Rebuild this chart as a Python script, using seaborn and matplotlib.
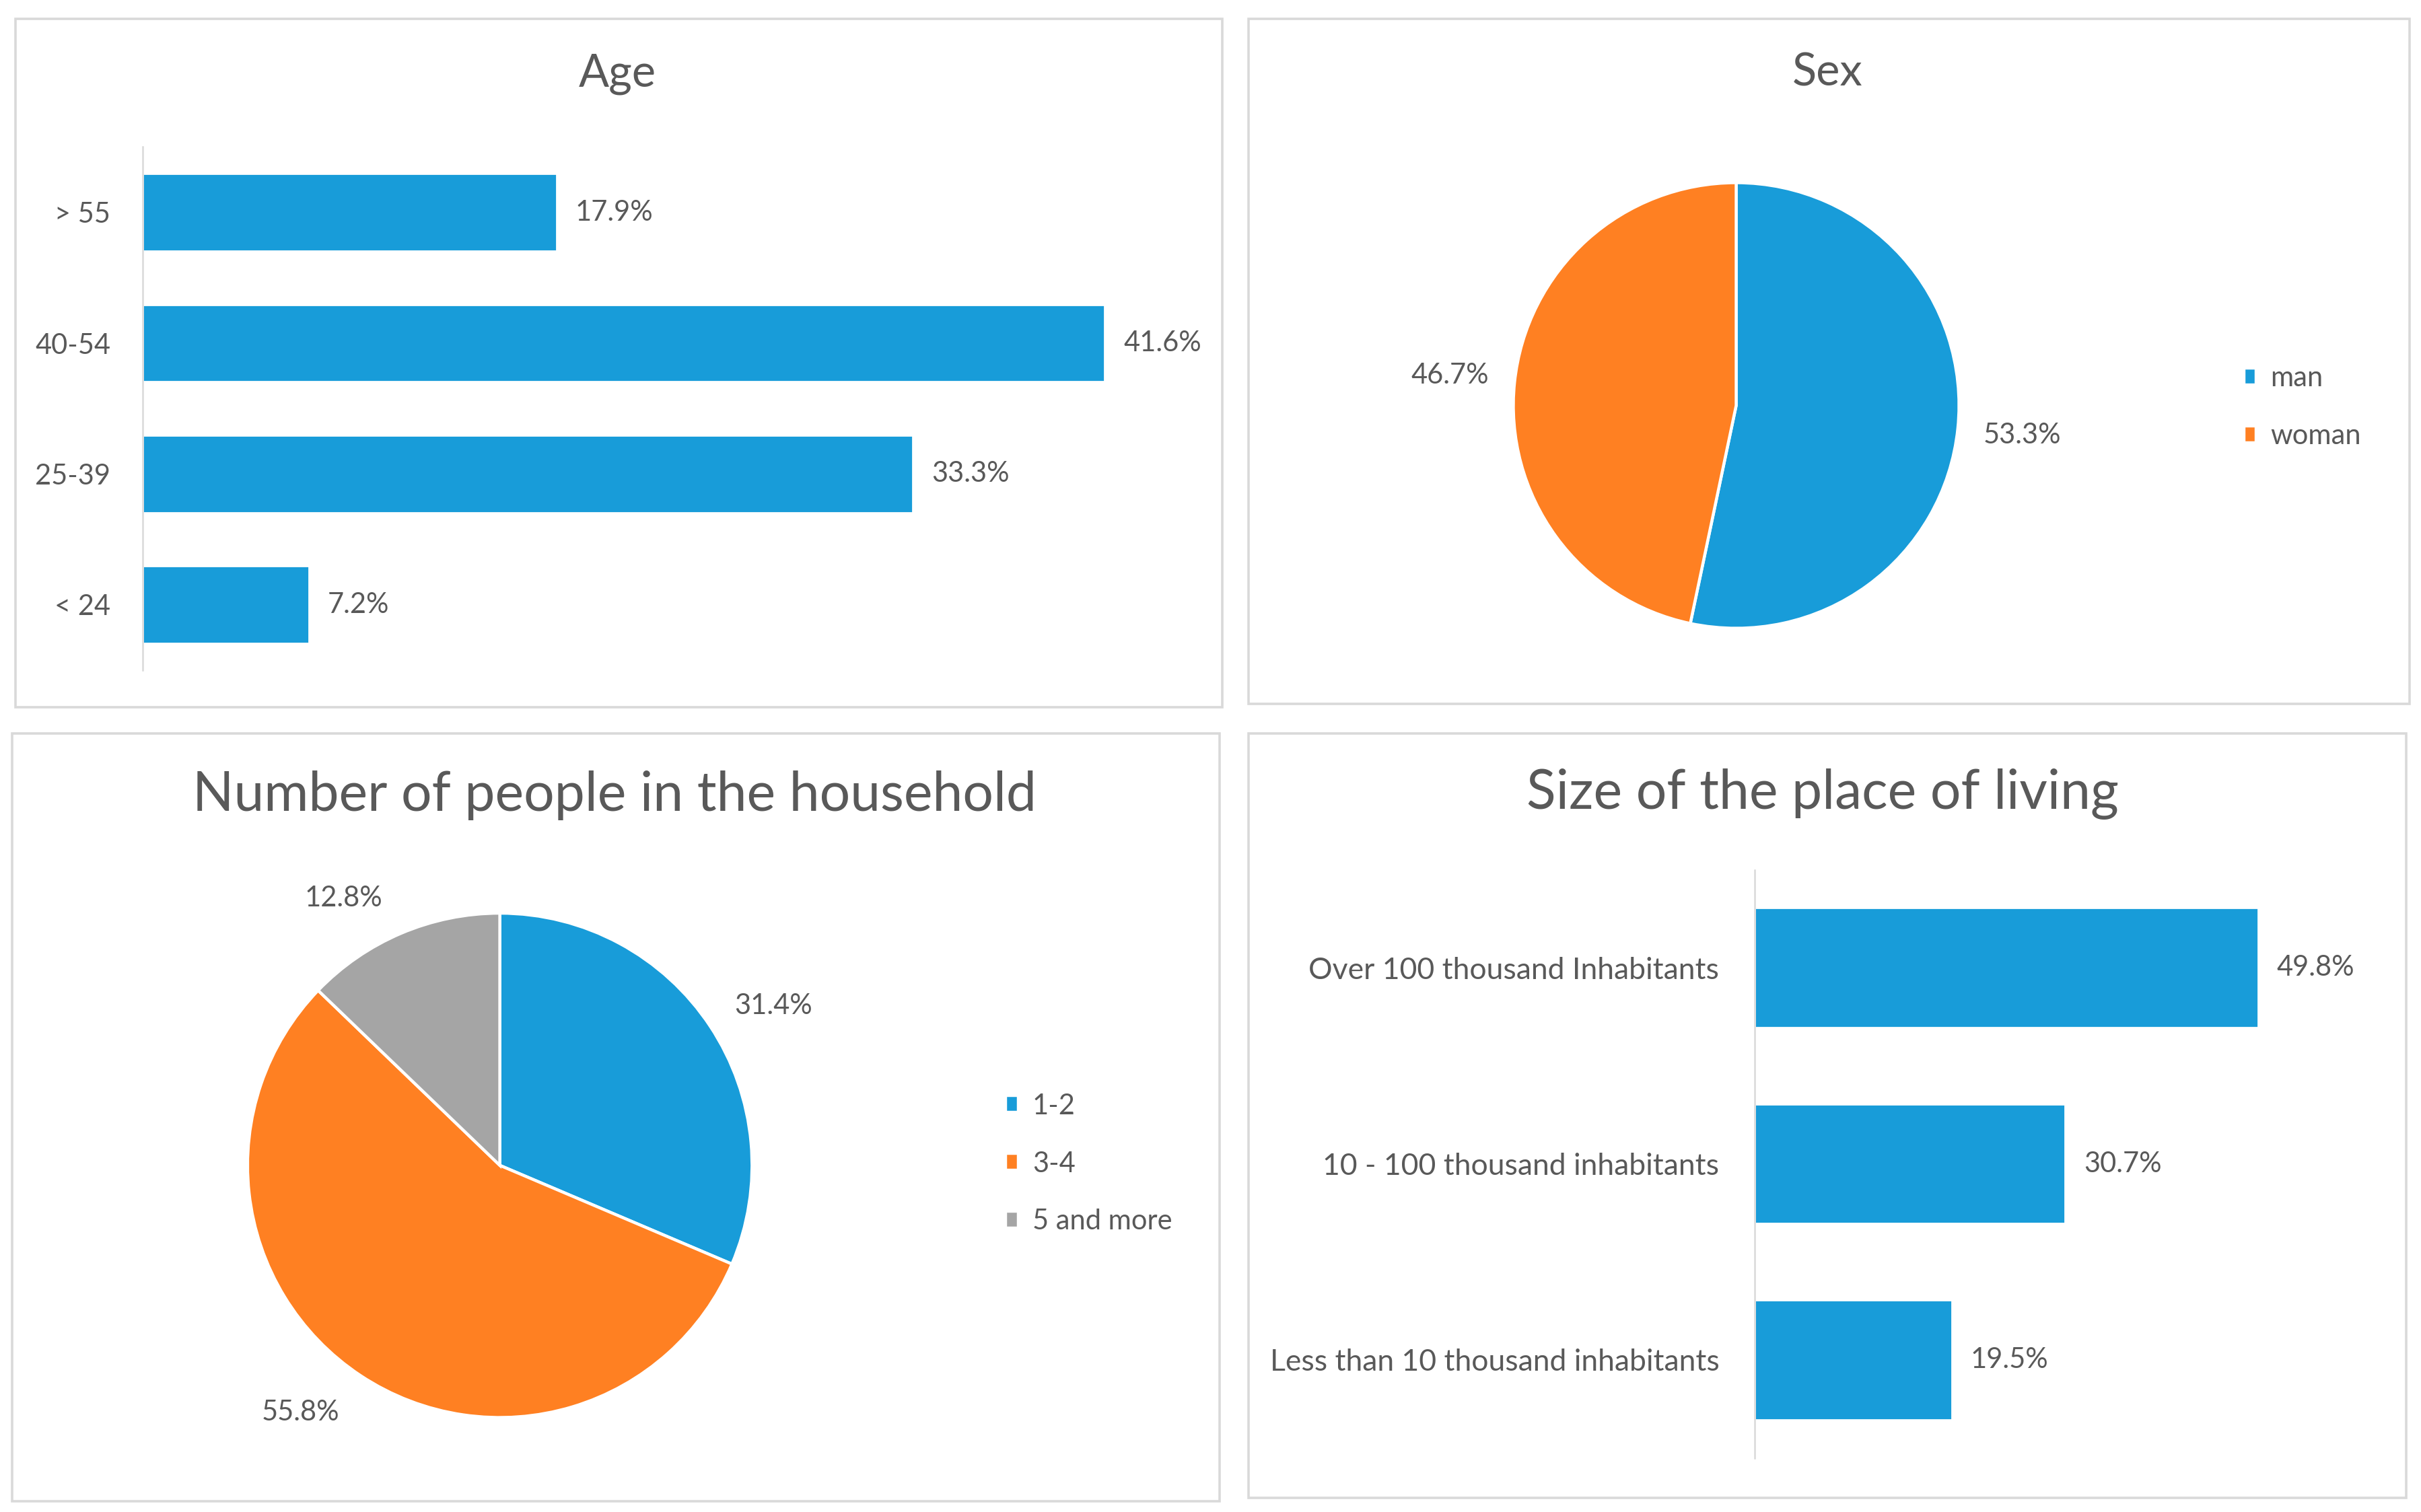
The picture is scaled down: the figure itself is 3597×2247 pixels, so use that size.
import matplotlib
matplotlib.use("Agg")
import matplotlib.pyplot as plt
from matplotlib.patches import Rectangle
import pandas as pd
import seaborn as sns

# dados
age_groups = ["> 55", "40-54", "25-39", "< 24"]
age_share = [17.9, 41.6, 33.3, 7.2]

sex_labels = ["man", "woman"]
sex_share = [53.3, 46.7]

household_labels = ["1-2", "3-4", "5 and more"]
household_share = [31.4, 55.8, 12.8]

place_labels = ["Over 100 thousand Inhabitants", "10 - 100 thousand inhabitants",
                "Less than 10 thousand inhabitants"]
place_share = [49.8, 30.7, 19.5]

BLUE = "#189CD9"
ORANGE = "#FF8022"
GRAY = "#A5A5A5"
TEXT = "#595959"
LINE = "#D9D9D9"

sns.set_theme(style="white")
plt.rcParams["font.family"] = ["Lato", "DejaVu Sans"]
plt.rcParams["text.color"] = TEXT

W, H = 1565, 977  # coordenadas de referencia (imagem reduzida)
fig = plt.figure(figsize=(17.99, 11.235), dpi=200)


def fx(x):
    return x / W


def fy(y):
    return 1 - y / H


def box(x0, y0, x1, y1):
    return [fx(x0), fy(y1), (x1 - x0) / W, (y1 - y0) / H]


# molduras dos paineis
for x0, y0, x1, y1 in [(10, 12, 790, 457), (807, 12, 1557, 455),
                       (8, 474, 788, 970), (807, 474, 1555, 968)]:
    fig.patches.append(Rectangle((fx(x0), fy(y1)), (x1 - x0) / W, (y1 - y0) / H,
                                 transform=fig.transFigure, fill=False,
                                 edgecolor=LINE, linewidth=1.3))

label_fs = 15
title_small = 24
title_big = 29


def hbar(ax, cats, vals, xmax, width, ticks, tick_fs):
    df = pd.DataFrame({"cat": cats, "val": vals})
    sns.barplot(data=df, y="cat", x="val", orient="h", color=BLUE,
                saturation=1, width=width, ax=ax)
    ax.set_xlim(0, xmax)
    ax.set_ylim(len(cats) - 0.5, -0.5)
    ax.set_xlabel("")
    ax.set_ylabel("")
    ax.set_xticks([])
    for s in ["top", "right", "bottom"]:
        ax.spines[s].set_visible(False)
    ax.spines["left"].set_color(LINE)
    ax.spines["left"].set_linewidth(0.9)
    ax.tick_params(axis="y", length=0, pad=17, labelsize=tick_fs, labelcolor=TEXT)
    if ticks:
        ax.set_yticks([i - 0.5 for i in range(len(cats) + 1)], minor=True)
        ax.tick_params(axis="y", which="minor", length=4, color=LINE, width=0.9)
    ax.bar_label(ax.containers[0], labels=[f"{v:.1f}%" for v in vals],
                 padding=10, fontsize=label_fs, color=TEXT)
    ax.set_facecolor("none")


# Age
ax1 = fig.add_axes(box(92, 95, 92 + 45 * 14.95, 433))
hbar(ax1, age_groups, age_share, 45, 0.59, False, label_fs)
fig.text(fx(399), fy(48), "Age", ha="center", va="center", fontsize=title_small, color=TEXT)

# Size of the place of living
ax4 = fig.add_axes(box(1134, 562, 1134 + 60 * 6.53, 942))
hbar(ax4, place_labels, place_share, 60, 0.61, True, 16)
ax4.tick_params(axis="y", pad=19)
fig.text(fx(1178), fy(513), "Size of the place of living", ha="center", va="center",
         fontsize=title_big, color=TEXT)


def pie(ax, vals, labels, colors, legend_xy, spacing, label_pos=None):
    wedges, _, autotexts = ax.pie(vals, colors=colors, startangle=90, counterclock=False,
                                  autopct="%.1f%%", pctdistance=1.29, radius=1,
                                  wedgeprops=dict(edgecolor="white", linewidth=1.6),
                                  textprops=dict(fontsize=label_fs, color=TEXT))
    # rotulos "best fit" como no Excel
    if label_pos is not None:
        for t, pos in zip(autotexts, label_pos):
            t.set_position(pos)
    ax.set_xlim(-1, 1)
    ax.set_ylim(-1, 1)
    ax.set_aspect("equal")
    ax.axis("off")
    fig.legend(wedges, labels, loc="center left", bbox_to_anchor=legend_xy,
               bbox_transform=fig.transFigure, frameon=False, fontsize=label_fs,
               handlelength=0.45, handleheight=0.55, handletextpad=0.5,
               labelspacing=spacing, borderpad=0, borderaxespad=0)


# Sex
ax2 = fig.add_axes(box(1122 - 144, 262 - 144, 1122 + 144, 262 + 144))
pie(ax2, sex_share, sex_labels, [BLUE, ORANGE], (fx(1450), fy(263)), 1.15)
fig.text(fx(1181), fy(47), "Sex", ha="center", va="center", fontsize=title_small, color=TEXT)

# Household
ax3 = fig.add_axes(box(323 - 163, 753 - 163, 323 + 163, 753 + 163))
pie(ax3, household_share, household_labels, [BLUE, ORANGE, GRAY], (fx(650), fy(752)), 1.15,
    label_pos=[(1.086, 0.632), (-0.79, -0.98), (-0.62, 1.06)])
fig.text(fx(397), fy(514), "Number of people in the household", ha="center", va="center",
         fontsize=title_big, color=TEXT)

fig.savefig("out.png", dpi=200, facecolor="white")
